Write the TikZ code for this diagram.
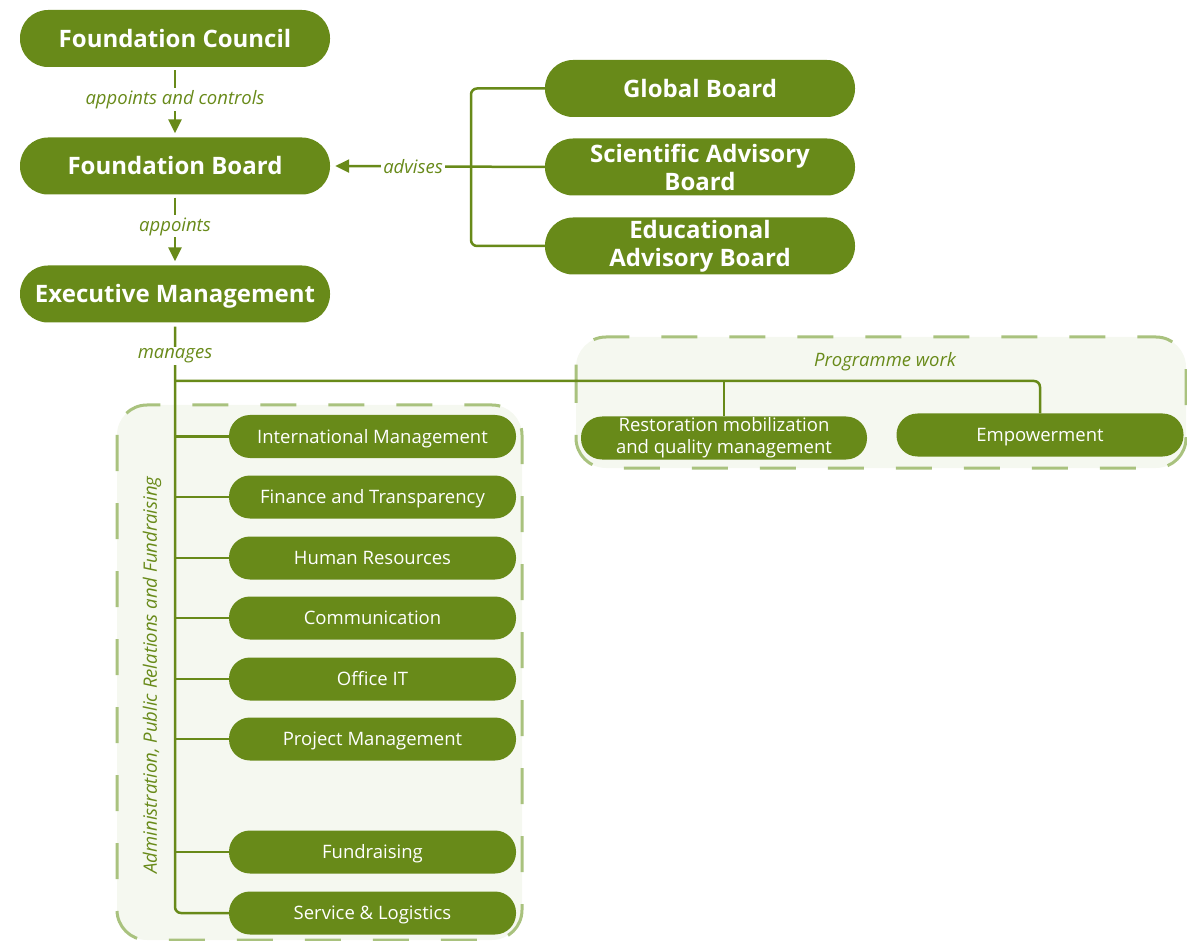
\documentclass[tikz,border=0pt]{standalone}
\usepackage{fontspec}
\setmainfont{Open Sans}
\usetikzlibrary{arrows.meta}
\definecolor{og}{HTML}{688A19}
\definecolor{gfill}{HTML}{F5F8F0}
\definecolor{gdash}{HTML}{A9C27E}
\begin{document}
\begin{tikzpicture}[x=1pt,y=-1pt,
 topbox/.style={fill=og, text=white, font=\bfseries\fontsize{24}{28}\selectfont, minimum width=310pt, minimum height=57pt, rounded corners=28pt, inner sep=0pt},
 subbox/.style={fill=og, text=white, font=\fontsize{18.5}{22}\selectfont, minimum width=287pt, minimum height=43pt, rounded corners=21pt, inner sep=0pt},
 topone/.style={text height=17.1pt, text depth=0pt},
 subone/.style={text height=13.2pt, text depth=0pt},
 conn/.style={draw=og, line width=2.5pt},
 arr/.style={conn, -{Triangle[length=14pt,width=13pt]}},
 lbl/.style={fill=white, text=og, font=\itshape\fontsize{18.5}{22}\selectfont, inner sep=2pt},
 grplbl/.style={text=og, font=\itshape\fontsize{18.5}{22}\selectfont, inner sep=0pt},
 grp/.style={fill=gfill, draw=gdash, line width=3pt, dash pattern=on 36pt off 32pt, rounded corners=30pt}
]
\useasboundingbox (0,0) rectangle (1187,941);
% groups
\draw[grp] (117,405) rectangle (522,940);
\draw[grp] (576,337) rectangle (1186,468);
\node[grplbl, rotate=90] (al) at (152,675) {Administration, Public Relations and Fundraising};
\node[grplbl] (pw) at (885,362) {Programme work};
% top boxes
\node[topbox, topone] (fc) at (175,38.5) {Foundation Council};
\node[topbox, topone] (fb) at (175,166) {Foundation Board};
\node[topbox, topone] (em) at (175,294) {Executive Management};
\node[topbox, topone] (gb) at (700,88.5) {Global Board};
\node[topbox, align=center] (sab) at (700,167) {Scientific Advisory\\Board};
\node[topbox, align=center] (eab) at (700,246) {Educational\\Advisory Board};
% sub boxes
\node[subbox, subone] (im) at (372.5,436.5) {International Management};
\node[subbox, subone] (ft) at (372.5,497) {Finance and Transparency};
\node[subbox, subone] (hr) at (372.5,558) {Human Resources};
\node[subbox, subone] (co) at (372.5,618) {Communication};
\node[subbox, subone] (it) at (372.5,679) {Office IT};
\node[subbox, subone] (pm) at (372.5,739) {Project Management};
\node[subbox, subone] (fr) at (372.5,852) {Fundraising};
\node[subbox, subone] (sl) at (372.5,913) {Service \& Logistics};
\node[subbox, align=center, minimum width=286pt] (rm) at (724,438) {Restoration mobilization\\and quality management};
\node[subbox, subone] (emp) at (1040,435) {Empowerment};
% connectors
\draw[arr, shorten <=3pt, shorten >=4pt] (fc) -- node[lbl,pos=0.46]{appoints and controls} (fb);
\draw[arr, shorten <=3pt, shorten >=4pt] (fb) -- node[lbl,pos=0.45]{appoints} (em);
\coordinate (jn) at (175,381);
\draw[conn, rounded corners=6pt, shorten <=4pt] (em.south) |- (sl.west);
\node[lbl] (mg) at (175,356) {manages};
\draw[conn, rounded corners=6pt] (jn) -| (emp.north);
\draw[conn] (jn -| rm.north) -- (rm.north);
\foreach \b in {im,ft,hr,co,it,pm,fr}{
  \draw[conn] (\b.west -| jn) -- (\b.west);
}
\coordinate (brk) at (471,167);
\draw[conn, rounded corners=6pt] (gb.west) -| (brk) |- (eab.west);
\draw[arr, shorten >=5pt] (sab.west) -- node[lbl,pos=0.614]{advises} (fb.east);
\end{tikzpicture}
\end{document}
